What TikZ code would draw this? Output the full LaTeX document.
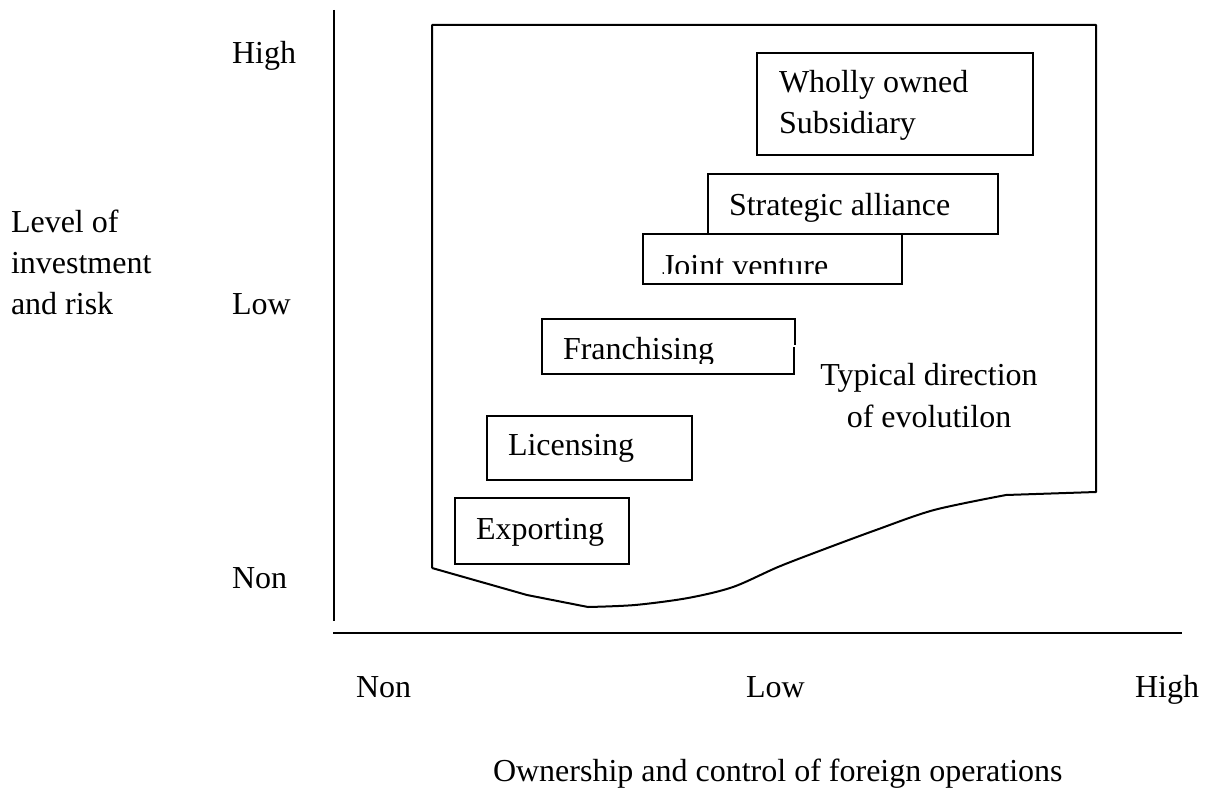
\documentclass[tikz,border=0pt]{standalone}
\usepackage{fontspec}
\setmainfont{Liberation Serif}
\begin{document}
\begin{tikzpicture}[x=1pt,y=-1pt,
  lbl/.style={anchor=base west,inner sep=0pt,outer sep=0pt},
  boxn/.style={draw,line width=2pt,anchor=north west,inner sep=0pt,outer sep=0pt,fill=white},
  axisline/.style={line width=2pt},
  regionline/.style={line width=2pt,line join=round}]
\useasboundingbox (0,0) rectangle (1206,789);
\fontsize{32}{41.5}\selectfont
% axes
\coordinate (ytop) at (334,10);
\coordinate (ybot) at (334,621);
\coordinate (xl) at (333,633);
\coordinate (xr) at (1182,633);
\draw[axisline] (ytop) -- (ybot);
\draw[axisline] (xl) -- (xr);
% region
\draw[regionline] (432,568) -- (432,25) -- (1096,25) -- (1096,492) -- (1006,495)
  plot[smooth,tension=0.5] coordinates {(1006,495) (934,510) (876,530) (822,550) (778,567) (733,587) (688,598) (635,605) (588,607)}
  -- (527,595) -- (432,568);
% boxes
\node[boxn,minimum width=276pt,minimum height=102pt] (wos) at (757,53) {};
\node[lbl] (wost1) at (779,93) {Wholly owned};
\node[lbl] (wost2) at (779,133) {Subsidiary};
\node[boxn,minimum width=290pt,minimum height=60pt] (sa) at (708,174) {};
\node[lbl] (sat) at (729,215) {Strategic alliance};
\node[boxn,minimum width=259pt,minimum height=50pt] (jv) at (643,234) {};
\begin{scope}
\clip (643,234) rectangle (902,273);
\node[lbl] (jvt) at (662,276) {Joint venture};
\end{scope}
\node[boxn,minimum width=253pt,minimum height=55pt] (fr) at (542,319) {};
% small break in the right edge of the Franchising box
\fill[white] (793.5,344.5) rectangle (797,374.5);
\draw[line width=2pt] (795,318) -- (795,345);
\draw[line width=2pt] (794,347) -- (794,375);
\begin{scope}
\clip (542,319) rectangle (795,363);
\node[lbl] (frt) at (563,359) {Franchising};
\end{scope}
\node[boxn,minimum width=205pt,minimum height=64pt] (lic) at (487,416) {};
\node[lbl] (lict) at (508,455) {Licensing};
\node[boxn,minimum width=174pt,minimum height=66pt] (exp) at (455,498) {};
\node[lbl] (expt) at (476,539) {Exporting};
% direction text
\node[anchor=base,inner sep=0pt] (td1) at (929,385) {Typical direction};
\node[anchor=base,inner sep=0pt] (td2) at (929,427) {of evolutilon};
% y labels
\node[lbl] (yl1) at (11,232) {Level of};
\node[lbl] (yl2) at (11,273) {investment};
\node[lbl] (yl3) at (11,314) {and risk};
\node[lbl] (yhigh) at (232,64) {High};
\node[lbl] (ylow) at (232,314) {Low};
\node[lbl] (ynon) at (232,588) {Non};
% x labels
\node[lbl] (xnon) at (356,697) {Non};
\node[lbl] (xlow) at (746,697) {Low};
\node[lbl] (xhigh) at (1135,697) {High};
\node[lbl] (xttl) at (493,781) {Ownership and control of foreign operations};
\end{tikzpicture}
\end{document}
